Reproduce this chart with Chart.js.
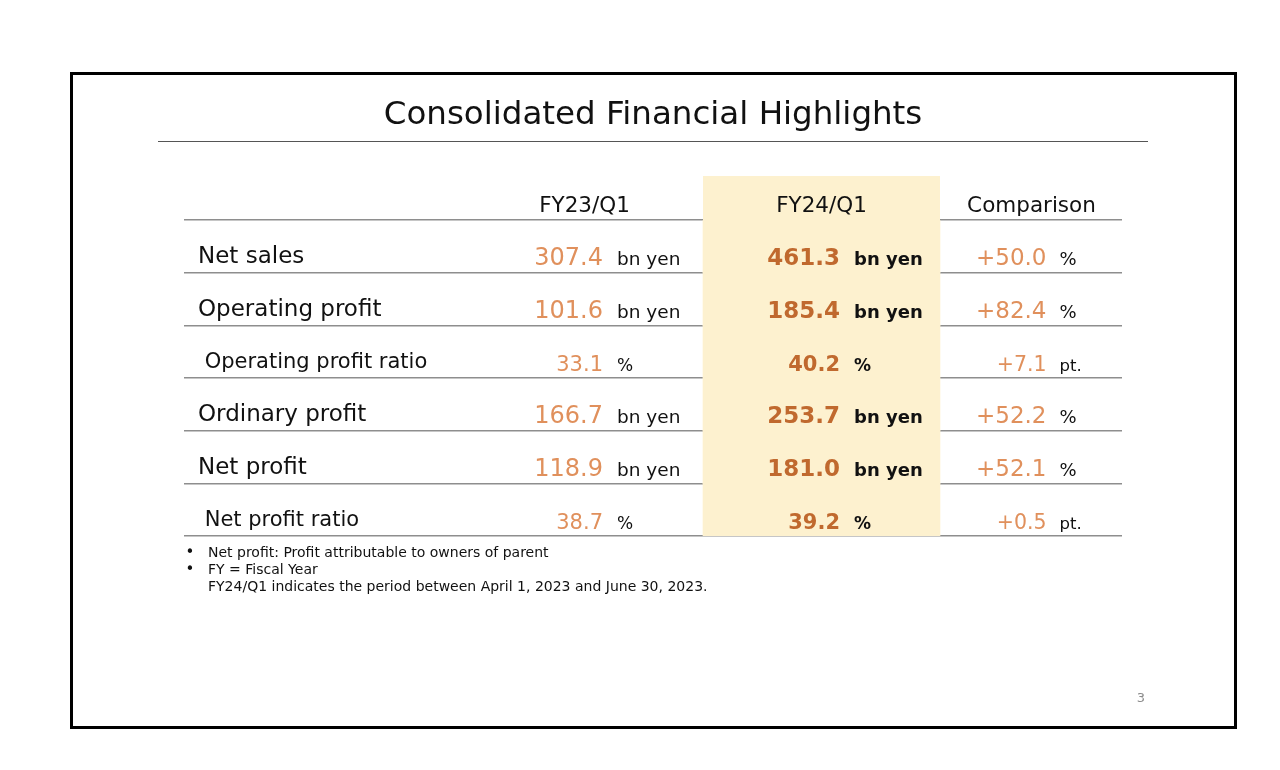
<!DOCTYPE html>
<html>
<head>
<meta charset="utf-8">
<title>Consolidated Financial Highlights</title>
<script src="https://cdn.jsdelivr.net/npm/chart.js@4.4.1/dist/chart.umd.min.js"></script>
<style>
  html, body { margin: 0; padding: 0; background: #fff; }
  #wrap { width: 1280px; height: 770px; }
</style>
</head>
<body>
<div id="wrap"><canvas id="highlights"></canvas></div>
<script>
const rowLabels = ['Net sales', 'Operating profit', 'Operating profit ratio', 'Ordinary profit', 'Net profit', 'Net profit ratio'];
const subRows = [false, false, true, false, false, true]; // ratio rows are indented + smaller
const columnLabels = ['FY23/Q1', 'FY24/Q1', 'Comparison'];
const fy23Values = [307.4, 101.6, 33.1, 166.7, 118.9, 38.7];
const fy24Values = [461.3, 185.4, 40.2, 253.7, 181.0, 39.2];
const comparisonValues = [50.0, 82.4, 7.1, 52.2, 52.1, 0.5];
const valueUnits = ['bn yen', 'bn yen', '%', 'bn yen', 'bn yen', '%'];
const comparisonUnits = ['%', '%', 'pt.', '%', '%', 'pt.'];
const footnotes = [
  ['•', 'Net profit: Profit attributable to owners of parent'],
  ['•', 'FY = Fiscal Year'],
  ['', 'FY24/Q1 indicates the period between April 1, 2023 and June 30, 2023.']
];
const pageNumber = '3';

const FONT = '"DejaVu Sans", Verdana, sans-serif';
const ORANGE = '#e0905c';
const DARK_ORANGE = '#c0692e';
const INK = '#111111';
const HIGHLIGHT = '#fdf1cf';
const highlightColumn = 2; // FY24/Q1

const fmt = (v) => v.toFixed(1);
const fmtDiff = (v) => '+' + v.toFixed(1);

function text(ctx, str, x, y, size, color, align, weight) {
  ctx.font = (weight || 'normal') + ' ' + size + 'px ' + FONT;
  ctx.fillStyle = color;
  ctx.textAlign = align || 'left';
  ctx.textBaseline = 'alphabetic';
  ctx.fillText(str, x, y);
}

const tablePlugin = {
  id: 'tableCells',
  beforeDatasetsDraw(chart) {
    // header part of the highlighted column, above the chart area
    const {ctx, chartArea, scales: {x}} = chart;
    const l = x.getPixelForValue(highlightColumn - 0.5);
    const r = x.getPixelForValue(highlightColumn + 0.5);
    ctx.save();
    ctx.fillStyle = HIGHLIGHT;
    ctx.fillRect(l, chartArea.top - 44, r - l, 44);
    ctx.restore();
  },
  afterDraw(chart) {
    const {ctx, chartArea, scales: {x, y}} = chart;
    ctx.save();

    // slide frame
    ctx.strokeStyle = '#000';
    ctx.lineWidth = 3;
    ctx.strokeRect(71.5, 73.5, 1164, 654);

    // rule under the title
    ctx.strokeStyle = '#555';
    ctx.lineWidth = 1;
    ctx.beginPath();
    ctx.moveTo(158, 141.5);
    ctx.lineTo(1148, 141.5);
    ctx.stroke();

    // column headers
    const headerShift = [0, 0, -27];
    columnLabels.forEach((lab, i) => {
      text(ctx, lab, x.getPixelForValue(i + 1) + headerShift[i], chartArea.top - 8, 21.5, INK, 'center');
    });

    // cells
    const valueShift = [18.5, 18.5, -12];
    rowLabels.forEach((lab, i) => {
      const sub = subRows[i];
      const by = y.getPixelForValue(i) + 19;
      const c1 = x.getPixelForValue(1) + valueShift[0];
      const c2 = x.getPixelForValue(2) + valueShift[1];
      const c3 = x.getPixelForValue(3) + valueShift[2];

      text(ctx, fmt(fy23Values[i]), c1, by, sub ? 21 : 24, ORANGE, 'right');
      text(ctx, valueUnits[i], c1 + 14, by, sub ? 17 : 18.5, INK, 'left');

      text(ctx, fmt(fy24Values[i]), c2, by, sub ? 21 : 23, DARK_ORANGE, 'right', 'bold');
      text(ctx, valueUnits[i], c2 + 14, by, sub ? 17 : 18, INK, 'left', 'bold');

      text(ctx, fmtDiff(comparisonValues[i]), c3, by, sub ? 20.5 : 23, ORANGE, 'right');
      text(ctx, comparisonUnits[i], c3 + 13, by, sub ? 16.5 : 18, INK, 'left');
    });

    // footnotes
    footnotes.forEach((f, i) => {
      const fy = chartArea.bottom + 21 + i * 17;
      if (f[0]) text(ctx, f[0], 190, fy, 15, INK, 'center');
      text(ctx, f[1], 208, fy, 14, INK, 'left');
    });

    // page number
    text(ctx, pageNumber, 1141, 702, 13, '#8c8c8c', 'center');
    ctx.restore();
  }
};

new Chart(document.getElementById('highlights'), {
  type: 'bar',
  data: {
    labels: rowLabels,
    datasets: [{
      label: columnLabels[highlightColumn - 1],
      data: rowLabels.map(() => [highlightColumn - 0.5, highlightColumn + 0.5]),
      backgroundColor: HIGHLIGHT,
      borderWidth: 0,
      barPercentage: 1,
      categoryPercentage: 1,
    }]
  },
  options: {
    indexAxis: 'y',
    responsive: true,
    maintainAspectRatio: false,
    animation: false,
    events: [],
    layout: {
      padding: { top: 0, left: 184, right: 158, bottom: 234 }
    },
    scales: {
      x: {
        display: false,
        min: -0.69,
        max: 3.268,
      },
      y: {
        z: 1,
        border: { display: false },
        grid: {
          offset: true,
          drawTicks: false,
          color: '#8e8e8e',
          lineWidth: 1.5,
        },
        ticks: {
          mirror: true,
          crossAlign: 'near',
          padding: 14,
          labelOffset: 11,
          color: INK,
          font: (c) => ({ family: FONT, size: subRows[c.index] ? 21 : 23 }),
          callback: function(value, index) {
            return (subRows[index] ? ' ' : '') + this.getLabelForValue(value);
          }
        },
        afterFit: (scale) => { scale.width = 0; }
      }
    },
    plugins: {
      legend: { display: false },
      tooltip: { enabled: false },
      title: {
        display: true,
        text: 'Consolidated Financial Highlights',
        color: INK,
        font: { family: FONT, size: 32.5, weight: 'normal', lineHeight: 1.2 },
        padding: { top: 96, bottom: 85 }
      }
    }
  },
  plugins: [tablePlugin]
});
</script>
</body>
</html>
